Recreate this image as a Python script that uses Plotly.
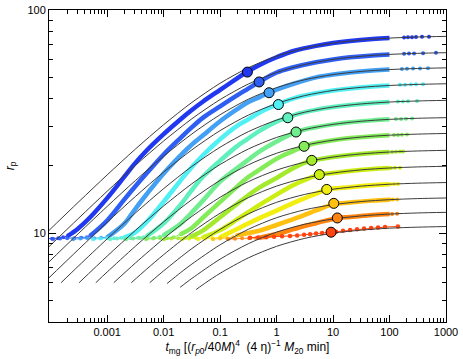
"""Pericentre evolution r_p vs merger time: numerical runs vs analytic curves."""
import plotly.graph_objects as go

# analytic (thin black) curves: t and r_p for each of the 13 runs
black_t = [
    [7.9e-5, 3.16e-4, 1e-3, 3.16e-3, 0.01, 0.0316, 0.1, 0.316, 1, 3.16, 10, 31.6, 100, 316, 1000],
    [7.9e-5, 3.16e-4, 1e-3, 3.16e-3, 0.01, 0.0316, 0.1, 0.316, 1, 3.16, 10, 31.6, 100, 316, 1000],
    [7.9e-5, 3.16e-4, 1e-3, 3.16e-3, 0.01, 0.0316, 0.1, 0.316, 1, 3.16, 10, 31.6, 100, 316, 1000],
    [7.9e-5, 3.16e-4, 1e-3, 3.16e-3, 0.01, 0.0316, 0.1, 0.316, 1, 3.16, 10, 31.6, 100, 316, 1000],
    [1.53e-4, 3.16e-4, 1e-3, 3.16e-3, 0.01, 0.0316, 0.1, 0.316, 1, 3.16, 10, 31.6, 100, 316, 1000],
    [3.19e-4, 1e-3, 3.16e-3, 0.01, 0.0316, 0.1, 0.316, 1, 3.16, 10, 31.6, 100, 316, 1000],
    [6.29e-4, 1e-3, 3.16e-3, 0.01, 0.0316, 0.1, 0.316, 1, 3.16, 10, 31.6, 100, 316, 1000],
    [1.31e-3, 3.16e-3, 0.01, 0.0316, 0.1, 0.316, 1, 3.16, 10, 31.6, 100, 316, 1000],
    [2.68e-3, 5e-3, 0.01, 0.0316, 0.1, 0.316, 1, 3.16, 10, 31.6, 100, 316, 1000],
    [5.67e-3, 0.01, 0.0316, 0.1, 0.316, 1, 3.16, 10, 31.6, 100, 316, 1000],
    [0.0115, 0.02, 0.0316, 0.1, 0.316, 1, 3.16, 10, 31.6, 100, 316, 1000],
    [0.0196, 0.0316, 0.1, 0.316, 1, 3.16, 10, 31.6, 100, 316, 1000],
    [0.0376, 0.0562, 0.1, 0.316, 1, 3.16, 10, 31.6, 100, 316, 1000],
]
black_r = [
    [9.88, 13.85, 18.24, 23.81, 30.62, 38.52, 46.97, 55.13, 62.11, 67.42, 71.09, 73.42, 74.85, 75.68, 76.17],
    [8.35, 11.70, 15.41, 20.12, 25.88, 32.55, 39.69, 46.59, 52.48, 56.98, 60.07, 62.04, 63.25, 63.95, 64.37],
    [7.14, 10.01, 13.18, 17.21, 22.13, 27.83, 33.94, 39.84, 44.88, 48.72, 51.37, 53.06, 54.09, 54.69, 55.04],
    [6.06, 8.49, 11.19, 14.60, 18.78, 23.62, 28.81, 33.81, 38.09, 41.35, 43.60, 45.03, 45.90, 46.41, 46.71],
    [6.00, 7.16, 9.43, 12.31, 15.83, 19.91, 24.28, 28.50, 32.11, 34.85, 36.75, 37.95, 38.69, 39.12, 39.37],
    [6.00, 7.89, 10.29, 13.24, 16.65, 20.31, 23.83, 26.85, 29.15, 30.73, 31.74, 32.36, 32.72, 32.93],
    [6.00, 6.70, 8.74, 11.24, 14.14, 17.25, 20.24, 22.81, 24.76, 26.10, 26.96, 27.48, 27.79, 27.97],
    [6.00, 7.35, 9.45, 11.89, 14.49, 17.01, 19.17, 20.81, 21.94, 22.66, 23.10, 23.35, 23.51],
    [6.00, 6.90, 8.01, 10.08, 12.29, 14.43, 16.25, 17.65, 18.60, 19.22, 19.59, 19.81, 19.94],
    [6.00, 6.78, 8.53, 10.40, 12.20, 13.75, 14.92, 15.74, 16.25, 16.57, 16.75, 16.86],
    [5.95, 6.66, 7.27, 8.87, 10.41, 11.73, 12.73, 13.42, 13.86, 14.13, 14.29, 14.38],
    [5.72, 6.27, 7.65, 8.97, 10.11, 10.97, 11.57, 11.95, 12.18, 12.32, 12.40],
    [5.59, 6.01, 6.61, 7.75, 8.73, 9.48, 10.00, 10.32, 10.53, 10.64, 10.71],
]

# numerical runs, dense (thick) part
data_t = [
    [2e-4, 3e-4, 5e-4, 1e-3, 2e-3, 3e-3, 5e-3, 0.01, 0.02, 0.03, 0.05, 0.1, 0.2, 0.301, 0.5, 1, 2, 5, 10, 20, 50, 100],
    [5e-4, 1e-3, 2e-3, 3e-3, 5e-3, 0.01, 0.02, 0.03, 0.05, 0.1, 0.2, 0.3, 0.49, 1, 2, 5, 10, 20, 50, 100],
    [1e-3, 2e-3, 3e-3, 5e-3, 0.01, 0.02, 0.03, 0.05, 0.1, 0.2, 0.3, 0.5, 0.736, 1, 2, 5, 10, 20, 50, 100],
    [2e-3, 3e-3, 5e-3, 0.01, 0.02, 0.03, 0.05, 0.1, 0.2, 0.3, 0.5, 1.076, 2, 5, 10, 20, 50, 100],
    [5e-3, 0.01, 0.02, 0.03, 0.05, 0.1, 0.2, 0.3, 0.5, 1, 1.58, 2.5, 5, 10, 20, 50, 100],
    [0.01, 0.02, 0.03, 0.05, 0.1, 0.2, 0.3, 0.5, 1, 2.21, 5, 10, 20, 50, 100],
    [0.02, 0.03, 0.05, 0.1, 0.2, 0.3, 0.5, 1, 2, 3.07, 5, 10, 20, 50, 100],
    [0.03, 0.05, 0.1, 0.2, 0.3, 0.5, 1, 2, 4.2, 6, 10, 20, 50, 100],
    [0.05, 0.1, 0.2, 0.3, 0.5, 1, 2, 3, 5.72, 10, 20, 50, 100],
    [0.1, 0.2, 0.3, 0.5, 1, 2, 3, 5, 7.73, 20, 50, 100],
    [0.2, 0.3, 0.5, 1, 2, 3, 5, 10.3, 20, 50, 100],
    [0.5, 1, 2, 3, 5, 11.9, 20, 50, 100],
]
data_r = [
    [9.72, 10.45, 11.79, 14.36, 17.87, 20.33, 23.47, 27.79, 32.41, 35.27, 38.89, 43.85, 49.36, 52.87, 56.75, 61.40, 65.52, 69.06, 71.09, 72.63, 74.08, 74.85],
    [9.73, 11.40, 14.13, 15.98, 18.55, 22.53, 26.74, 29.46, 32.95, 37.01, 41.44, 44.12, 47.56, 52.48, 55.37, 58.36, 60.07, 61.38, 62.60, 63.25],
    [9.59, 11.00, 12.63, 14.94, 18.51, 22.32, 24.65, 27.44, 31.72, 35.93, 38.41, 40.72, 42.61, 43.98, 46.73, 49.91, 51.37, 52.49, 53.54, 54.09],
    [9.57, 10.00, 11.22, 13.83, 17.25, 19.51, 22.41, 26.36, 30.26, 32.12, 34.69, 37.90, 40.18, 42.35, 43.60, 44.54, 45.43, 45.90],
    [9.69, 11.06, 13.42, 15.34, 17.93, 21.13, 24.56, 26.34, 28.74, 31.62, 33.00, 34.36, 35.70, 36.75, 37.54, 38.29, 38.69],
    [9.79, 11.03, 12.22, 14.03, 17.03, 19.56, 21.13, 23.25, 25.77, 28.40, 29.85, 30.73, 31.40, 32.02, 32.36],
    [9.89, 10.47, 11.76, 13.80, 16.16, 17.66, 19.25, 21.55, 23.37, 24.50, 25.36, 26.10, 26.67, 27.20, 27.48],
    [9.63, 10.30, 11.79, 13.53, 14.64, 16.03, 17.68, 19.61, 21.20, 21.49, 21.94, 22.41, 22.86, 23.10],
    [9.58, 10.32, 11.52, 12.32, 13.40, 14.89, 16.42, 17.22, 18.30, 18.60, 19.01, 19.39, 19.59],
    [9.58, 10.45, 11.00, 11.68, 12.62, 13.67, 14.27, 15.04, 15.70, 16.08, 16.40, 16.57],
    [9.78, 9.99, 10.26, 10.88, 11.57, 12.01, 12.64, 13.50, 13.71, 13.99, 14.13],
    [9.54, 9.91, 10.42, 10.74, 11.08, 11.70, 11.82, 12.06, 12.18],
]

# sparse points on the r_p ~ 9.5 floor, before each run lifts off
flat_t = [
    [8.0e-5, 1.06e-4, 1.36e-4, 1.66e-4],
    [1.11e-4, 1.47e-4, 1.96e-4, 2.61e-4, 3.47e-4, 4.4e-4],
    [2.5e-4, 3.33e-4, 4.43e-4, 5.89e-4, 7.83e-4],
    [5.65e-4, 7.52e-4, 1e-3, 1.33e-3, 1.77e-3],
    [1.13e-3, 1.5e-3, 2.0e-3, 2.66e-3, 3.54e-3, 4.4e-3],
    [2.17e-3, 2.88e-3, 3.84e-3, 5.1e-3, 6.79e-3, 8.6e-3],
    [4.89e-3, 6.52e-3, 8.67e-3, 1.15e-2, 1.5e-2],
    [1.02e-2, 1.36e-2, 1.81e-2, 2.4e-2],
    [2.12e-2, 2.83e-2, 3.76e-2],
    [4.08e-2, 5.43e-2, 7.22e-2],
    [7.52e-2, 0.1, 0.133, 0.17],
    [0.139, 0.184, 0.245, 0.326, 0.433],
]
flat_r = [
    [9.42, 9.45, 9.5, 9.58],
    [9.42, 9.46, 9.48, 9.5, 9.53, 9.6],
    [9.4, 9.46, 9.48, 9.5, 9.54],
    [9.4, 9.46, 9.48, 9.5, 9.54],
    [9.4, 9.46, 9.48, 9.5, 9.53, 9.6],
    [9.4, 9.46, 9.48, 9.5, 9.53, 9.65],
    [9.4, 9.46, 9.48, 9.5, 9.6],
    [9.4, 9.46, 9.5, 9.55],
    [9.4, 9.47, 9.52],
    [9.4, 9.47, 9.52],
    [9.4, 9.47, 9.5, 9.6],
    [9.4, 9.45, 9.48, 9.5, 9.52],
]

# sparse points at late times
tail_t = [
    [181, 212, 250, 294, 376, 500],
    [181, 221, 272, 393, 665],
    [166, 204, 261, 347, 480],
    [153, 188, 240, 294, 392],
    [141, 173, 212, 307],
    [130, 160, 196, 250],
    [120, 141, 166, 204],
    [111, 130, 153, 173],
    [106, 125, 153],
    [102, 120, 141],
    [102, 115, 136],
    [94, 111, 136],
]
tail_r = [
    [75.3, 75.45, 75.55, 75.65, 75.8, 75.95],
    [63.7, 63.8, 63.9, 64.05, 64.3],
    [54.45, 54.55, 54.65, 54.75, 54.85],
    [46.22, 46.3, 46.38, 46.45, 46.52],
    [38.9, 38.95, 39.0, 39.15],
    [32.45, 32.5, 32.58, 32.65],
    [27.53, 27.57, 27.62, 27.67],
    [23.13, 23.16, 23.2, 23.22],
    [19.6, 19.63, 19.66],
    [16.58, 16.6, 16.63],
    [14.14, 14.15, 14.17],
    [12.17, 12.19, 12.21],
]

# last run (r_p0 smallest) is only sampled sparsely
red_t = [0.340, 0.471, 0.652, 0.903, 1.25, 1.73, 2.31, 3.07, 3.92, 5.00, 6.39,
         11.3, 15.0, 20.0, 26.6, 35.4, 47.1, 62.6, 83.3, 141]
red_r = [9.55, 9.57, 9.60, 9.64, 9.68, 9.72, 9.77, 9.84, 9.90, 9.96, 10.01,
         10.15, 10.25, 10.34, 10.42, 10.49, 10.55, 10.60, 10.65, 10.72]

circle_t = [0.304, 0.490, 0.736, 1.076, 1.58, 2.21, 3.07, 4.20, 5.72, 7.73, 10.3, 11.9, 9.22]
circle_r = [52.7, 47.6, 42.6, 37.7, 32.9, 28.4, 24.5, 21.2, 18.3, 15.7, 13.6, 11.7, 10.1]

colors = ["#2038f0", "#2f5ff2", "#44a0f4", "#50f0f4", "#60f0c0", "#70ee90", "#84ec58",
          "#a4ea2c", "#ccee10", "#f2ee10", "#ffc010", "#ff8410", "#ff4410"]

x_major = [0.001, 0.01, 0.1, 1, 10, 100, 1000]
x_labels = ["0.001", "0.01", "0.1", "1", "10", "100", "1000"]
x_minor = [k * 10.0 ** d for d in range(-4, 3) for k in range(2, 10)]
y_major = [10, 100]
y_minor = [4, 5, 6, 7, 8, 9, 20, 30, 40, 50, 60, 70, 80, 90]

fig = go.Figure()

for i in range(12):
    c = colors[i]
    fig.add_trace(go.Scatter(
        x=flat_t[i] + [data_t[i][0]], y=flat_r[i] + [data_r[i][0]], mode="lines+markers",
        line=dict(color=c, width=1), marker=dict(color=c, size=4), opacity=0.9,
    ))
    fig.add_trace(go.Scatter(
        x=data_t[i], y=data_r[i], mode="lines",
        line=dict(color=c, width=4.5, shape="spline", smoothing=1.0),
    ))
    fig.add_trace(go.Scatter(
        x=tail_t[i], y=tail_r[i], mode="markers", marker=dict(color=c, size=4),
    ))

fig.add_trace(go.Scatter(
    x=red_t, y=red_r, mode="lines+markers",
    line=dict(color=colors[12], width=1), marker=dict(color=colors[12], size=4.5),
))

for t, r in zip(black_t, black_r):
    fig.add_trace(go.Scatter(
        x=t, y=r, mode="lines",
        line=dict(color="#3c3c3c", width=1, shape="spline", smoothing=0.8),
    ))

fig.add_trace(go.Scatter(
    x=circle_t, y=circle_r, mode="markers",
    marker=dict(color=colors, size=10, line=dict(color="black", width=1)),
))

axis_common = dict(
    type="log", showline=True, linecolor="black", linewidth=1, mirror="allticks",
    ticks="inside", ticklen=7, tickwidth=1, tickcolor="black", automargin=False,
    showgrid=False, zeroline=False, tickfont=dict(size=11, color="black"),
)

fig.update_layout(
    width=463, height=359,
    margin=dict(l=49, r=17, t=10, b=37),
    paper_bgcolor="white", plot_bgcolor="white",
    font=dict(family="Liberation Sans, Arial, sans-serif", color="black"),
    showlegend=False,
    xaxis=dict(
        **axis_common, range=[-4.03, 3.0],
        tickvals=x_major, ticktext=x_labels,
        minor=dict(tickvals=x_minor, ticks="inside", ticklen=4, tickcolor="black", tickwidth=1),
        title=dict(
            text="<i>t</i><sub>mg</sub> [(<i>r</i><sub><i>p</i>0</sub>/40<i>M</i>)<sup>4</sup>"
                 "  (4 η)<sup>−1</sup> <i>M</i><sub>20</sub> min]",
            font=dict(size=12), standoff=0,
        ),
    ),
    yaxis=dict(
        **axis_common, range=[0.602, 2.0],
        tickvals=y_major, ticktext=["10", "100"],
        minor=dict(tickvals=y_minor, ticks="inside", ticklen=4, tickcolor="black", tickwidth=1),
        title=dict(text="<i>r</i><sub>p</sub>", font=dict(size=12), standoff=10),
    ),
)

# the page body has a default 8px margin; drop it so the figure sits at the corner
fig.write_html(
    "out.html",
    config={"displayModeBar": False},
    post_script="document.body.style.margin='0px';",
)
